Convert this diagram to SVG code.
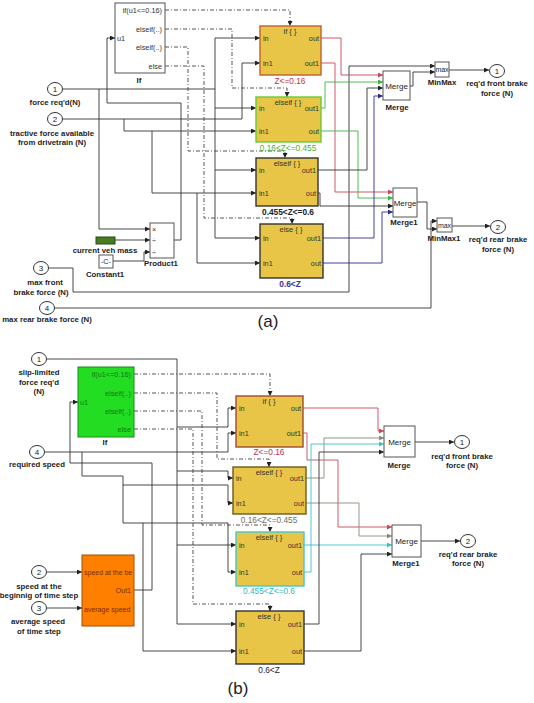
<svg xmlns="http://www.w3.org/2000/svg" width="534" height="703" viewBox="0 0 534 703">
<defs>
<style>
text{font-family:"Liberation Sans",Arial,sans-serif;fill:#222}
.lb{font-size:7.8px;font-weight:bold;text-anchor:middle}
.in{font-size:7.3px;fill:#333}
.ti{font-size:7.5px;text-anchor:middle;fill:#333}
.c{text-anchor:middle}
.e{text-anchor:end}
.blk{fill:#e8c547;stroke-width:1.4}
.pt{fill:#fff;stroke:#333;stroke-width:1}
.ln{fill:none;stroke:#333;stroke-width:0.9}
.dd{fill:none;stroke:#444;stroke-width:0.9;stroke-dasharray:4 2 1 2}
.a{marker-end:url(#ah)}
.r{stroke:#c8485a;marker-end:url(#ar)}
.g{stroke:#3cb43c;marker-end:url(#ag)}
.b{stroke:#2c2c8c;marker-end:url(#ab)}
.cy{stroke:#3cc0c8;marker-end:url(#ac)}
.gy{stroke:#8a8a7a;marker-end:url(#ay)}
</style>
<marker id="ah" viewBox="0 0 6 6" refX="6" refY="3" markerWidth="5" markerHeight="5" orient="auto" markerUnits="userSpaceOnUse"><path d="M0,0L6,3L0,6z" fill="#222"/></marker>
<marker id="ar" viewBox="0 0 6 6" refX="6" refY="3" markerWidth="5" markerHeight="5" orient="auto" markerUnits="userSpaceOnUse"><path d="M0,0L6,3L0,6z" fill="#c8485a"/></marker>
<marker id="ag" viewBox="0 0 6 6" refX="6" refY="3" markerWidth="5" markerHeight="5" orient="auto" markerUnits="userSpaceOnUse"><path d="M0,0L6,3L0,6z" fill="#3cb43c"/></marker>
<marker id="ab" viewBox="0 0 6 6" refX="6" refY="3" markerWidth="5" markerHeight="5" orient="auto" markerUnits="userSpaceOnUse"><path d="M0,0L6,3L0,6z" fill="#2c2c8c"/></marker>
<marker id="ac" viewBox="0 0 6 6" refX="6" refY="3" markerWidth="5" markerHeight="5" orient="auto" markerUnits="userSpaceOnUse"><path d="M0,0L6,3L0,6z" fill="#3cc0c8"/></marker>
<marker id="ay" viewBox="0 0 6 6" refX="6" refY="3" markerWidth="5" markerHeight="5" orient="auto" markerUnits="userSpaceOnUse"><path d="M0,0L6,3L0,6z" fill="#8a8a7a"/></marker>
<clipPath id="oc"><rect x="82" y="555" width="52" height="71"/></clipPath>
</defs>
<rect width="534" height="703" fill="#fff"/>

<!-- ===== connectors (a) ===== -->
<g id="connectors-a">
<path class="ln a" d="M63,89 H215 V38 H260"/>
<path class="ln a" d="M215,89 V238 H260"/>
<path class="ln a" d="M215,108 H256"/>
<path class="ln a" d="M215,170 H256"/>
<path class="ln a" d="M99,89 V229 H150"/>
<path class="ln a" d="M63,119 H242 V63 H260"/>
<path class="ln a" d="M124,119 V131 H256"/>
<path class="ln a" d="M152,131 V193 H256"/>
<path class="ln a" d="M197,193 V263 H260"/>
<path class="ln a" d="M174,240 H181 V103 H107 V38 H115"/>
<path class="ln a" d="M115,240 H150"/>
<path class="ln a" d="M113,261 H144 V252 H150"/>
<path class="ln a" d="M49,268 H73 V292 H349 V66 H435"/>
<path class="ln a" d="M55,308 H431 V221 H437"/>
<path class="ln a" d="M410,86 H413 V72 H435"/>
<path class="ln a" d="M449,70 H489"/>
<path class="ln a" d="M417,202 H427 V229 H437"/>
<path class="ln a" d="M452,226 H490"/>
<path class="ln r" d="M321,38 H341 V75 H383"/>
<path class="ln r" d="M321,63 H335 V192 H393"/>
<path class="ln g" d="M321,108 H325 V82 H383"/>
<path class="ln g" d="M321,131 H358 V198 H393"/>
<path class="ln a" d="M318,170 H367 V88 H383"/>
<path class="ln a" d="M318,193 H320 V206 H393"/>
<path class="ln b" d="M323,238 H374 V96 H383"/>
<path class="ln b" d="M323,263 H382 V212 H393"/>
<path class="dd a" d="M165,10 H290 V26"/>
<path class="dd a" d="M165,29 H232 V88 H287 V97"/>
<path class="dd a" d="M165,47 H188 V151 H285 V158"/>
<path class="dd a" d="M165,66 H204 V218 H292 V224"/>
</g>

<!-- ===== nodes (a) ===== -->
<g id="If-a">
<rect x="115" y="3" width="50" height="70" fill="#fff" stroke="#555"/>
<text class="in e" x="162" y="13">if(u1&lt;=0.16)</text>
<text class="in e" x="162" y="32">elseif(..)</text>
<text class="in e" x="162" y="50">elseif(..)</text>
<text class="in e" x="162" y="69">else</text>
<text class="in" x="117" y="41">u1</text>
<text class="lb" x="139" y="83">If</text>
</g>
<g id="in1-a"><ellipse class="pt" cx="55" cy="89" rx="7.5" ry="6.5"/><text class="c" x="55" y="92" font-size="8">1</text><text class="lb" x="55" y="105">force req'd(N)</text></g>
<g id="in2-a"><ellipse class="pt" cx="55" cy="119" rx="7.5" ry="6.5"/><text class="c" x="55" y="122" font-size="8">2</text><text class="lb" x="52" y="136">tractive force available</text><text class="lb" x="52" y="145">from drivetrain (N)</text></g>
<g id="in3-a"><ellipse class="pt" cx="41" cy="268" rx="7.5" ry="6.5"/><text class="c" x="41" y="271" font-size="8">3</text><text class="lb" x="45" y="285">max front</text><text class="lb" x="41" y="295">brake force (N)</text></g>
<g id="in4-a"><ellipse class="pt" cx="47" cy="308" rx="7.5" ry="6.5"/><text class="c" x="47" y="311" font-size="8">4</text><text class="lb" x="47" y="322">max rear brake force (N)</text></g>
<g id="Product1"><rect x="150" y="223" width="24" height="35" fill="#fff" stroke="#555"/><text class="in" x="152" y="232">×</text><text class="in" x="152" y="243">÷</text><text class="in" x="152" y="255">÷</text><text class="lb" x="161" y="266">Product1</text></g>
<g id="vehmass"><rect x="96" y="237" width="19" height="7" fill="#4a7a22" stroke="#2a4a10"/><text class="lb" x="105" y="253">current veh mass</text></g>
<g id="Constant1"><rect x="99" y="255" width="14" height="13" fill="#fff" stroke="#555"/><text class="in c" x="106" y="264">-C-</text><text class="lb" x="105" y="277">Constant1</text></g>

<g id="if-a"><rect class="blk" x="260" y="26" width="61" height="49" stroke="#c0602a"/><text class="ti" x="290" y="34">if { }</text><text class="in" x="263" y="41">in</text><text class="in" x="263" y="66">in1</text><text class="in e" x="319" y="41">out</text><text class="in e" x="319" y="66">out1</text><text class="c" x="290" y="84" font-size="8.3" fill="#c0304a" style="fill:#c0304a">Z&lt;=0.16</text></g>
<g id="elseif1-a"><rect class="blk" x="256" y="97" width="65" height="45" stroke="#66cc33"/><text class="ti" x="288" y="105">elseif { }</text><text class="in" x="259" y="111">in</text><text class="in" x="259" y="134">in1</text><text class="in e" x="319" y="111">out1</text><text class="in e" x="319" y="134">out</text><text class="c" x="288" y="151" font-size="8.3" style="fill:#3cb43c">0.16&lt;Z&lt;=0.455</text></g>
<g id="elseif2-a"><rect class="blk" x="256" y="158" width="62" height="48" stroke="#333"/><text class="ti" x="287" y="166">elseif { }</text><text class="in" x="259" y="173">in</text><text class="in" x="259" y="196">in1</text><text class="in e" x="316" y="173">out1</text><text class="in e" x="316" y="196">out</text><text class="c" x="288" y="215" font-size="8.3" font-weight="bold">0.455&lt;Z&lt;=0.6</text></g>
<g id="else-a"><rect class="blk" x="260" y="224" width="63" height="54" stroke="#333"/><text class="ti" x="291" y="232">else { }</text><text class="in" x="263" y="241">in</text><text class="in" x="263" y="266">in1</text><text class="in e" x="321" y="241">out1</text><text class="in e" x="321" y="266">out</text><text class="c" x="290" y="287" font-size="8.3" font-weight="bold" style="fill:#333399">0.6&lt;Z</text></g>

<g id="Merge-a"><rect x="383" y="71" width="27" height="29" fill="#fff" stroke="#555"/><text class="c" x="396.5" y="89" font-size="8">Merge</text><text class="lb" x="397" y="110">Merge</text></g>
<g id="MinMax-a"><rect x="435" y="62" width="14" height="15" fill="#fff" stroke="#555"/><text class="c" x="442" y="72" font-size="7">max</text><text class="lb" x="442" y="85">MinMax</text></g>
<g id="out1-a"><ellipse class="pt" cx="497" cy="71" rx="7.5" ry="6.5"/><text class="c" x="497" y="74" font-size="8">1</text><text class="lb" x="497" y="86">req'd front brake</text><text class="lb" x="497" y="96">force (N)</text></g>
<g id="Merge1-a"><rect x="393" y="188" width="24" height="29" fill="#fff" stroke="#555"/><text class="c" x="405" y="206" font-size="8">Merge</text><text class="lb" x="404" y="225">Merge1</text></g>
<g id="MinMax1-a"><rect x="437" y="218" width="15" height="14" fill="#fff" stroke="#555"/><text class="c" x="444.5" y="228" font-size="7">max</text><text class="lb" x="444" y="241">MinMax1</text></g>
<g id="out2-a"><ellipse class="pt" cx="498" cy="227" rx="7.5" ry="6.5"/><text class="c" x="498" y="230" font-size="8">2</text><text class="lb" x="498" y="242">req'd rear brake</text><text class="lb" x="498" y="252">force (N)</text></g>
<text x="268" y="327" font-size="17" class="c">(a)</text>

<!-- ===== connectors (b) ===== -->
<g id="connectors-b">
<path class="ln a" d="M47,359 H177 V624 H236"/>
<path class="ln a" d="M177,427 H228 V408 H236"/>
<path class="ln a" d="M177,471 H228 V478 H233"/>
<path class="ln a" d="M177,545 H236"/>
<path class="ln a" d="M45,452 H228 V433 H236"/>
<path class="ln a" d="M82,452 V476 H123 V523 H228 V572 H236"/>
<path class="ln a" d="M123,485 H228 V503 H233"/>
<path class="ln a" d="M143,523 V651 H236"/>
<path class="ln a" d="M47,572 H82"/>
<path class="ln a" d="M47,608 H82"/>
<path class="ln a" d="M134,590 H152 V463 H70 V402 H78"/>
<path class="ln a" d="M415,442 H454"/>
<path class="ln a" d="M421,541 H460"/>
<path class="ln r" d="M303,408 H378 V431 H384"/>
<path class="ln r" d="M303,433 H307 V460 H338 V527 H392"/>
<path class="ln gy" d="M306,478 H324 V438 H384"/>
<path class="ln gy" d="M306,503 H359 V536 H392"/>
<path class="ln cy" d="M304,545 H392"/>
<path class="ln cy" d="M304,572 H311 V444 H384"/>
<path class="ln a" d="M304,624 H319 V452 H384"/>
<path class="ln a" d="M304,651 H361 V554 H392"/>
<path class="dd a" d="M134,374 H270 V396"/>
<path class="dd a" d="M134,393 H217 V459 H269 V467"/>
<path class="dd a" d="M134,411 H202 V525 H270 V532"/>
<path class="dd a" d="M134,429 H193 V604 H270 V611"/>
</g>

<!-- ===== nodes (b) ===== -->
<g id="in1-b"><ellipse class="pt" cx="39" cy="359" rx="7.5" ry="6.5"/><text class="c" x="39" y="362" font-size="8">1</text><text class="lb" x="39" y="375">slip-limited</text><text class="lb" x="39" y="385">force req'd</text><text class="lb" x="39" y="394">(N)</text></g>
<g id="If-b">
<rect x="78" y="367" width="56" height="70" fill="#22dd22" stroke="#1a8a1a"/>
<text class="in e" x="131" y="377" style="fill:#147a14">if(u1&lt;=0.16)</text>
<text class="in e" x="131" y="396" style="fill:#147a14">elseif(..)</text>
<text class="in e" x="131" y="414" style="fill:#147a14">elseif(..)</text>
<text class="in e" x="131" y="432" style="fill:#147a14">else</text>
<text class="in" x="80" y="405" style="fill:#147a14">u1</text>
<text class="lb" x="105" y="445">If</text>
</g>
<g id="in4-b"><ellipse class="pt" cx="37" cy="452" rx="7.5" ry="6.5"/><text class="c" x="37" y="455" font-size="8">4</text><text class="lb" x="37" y="467">required speed</text></g>
<g id="in2-b"><ellipse class="pt" cx="39" cy="572" rx="7.5" ry="6.5"/><text class="c" x="39" y="575" font-size="8">2</text><text class="lb" x="39" y="589">speed at the</text><text class="lb" x="39" y="598">beginnig of time step</text></g>
<g id="in3-b"><ellipse class="pt" cx="39" cy="608" rx="7.5" ry="6.5"/><text class="c" x="39" y="611" font-size="8">3</text><text class="lb" x="38" y="624">average speed</text><text class="lb" x="39" y="634">of time step</text></g>
<g id="speedblock"><rect x="82" y="555" width="52" height="71" fill="#ff8000" stroke="#a05000"/><g clip-path="url(#oc)"><text x="84" y="575" font-size="7" style="fill:#7a2a00">speed at the  be</text></g><text x="131" y="593" font-size="7" class="e" style="fill:#7a2a00">Out1</text><text x="84" y="612" font-size="7" style="fill:#7a2a00">average speed</text></g>

<g id="if-b"><rect class="blk" x="236" y="396" width="67" height="51" stroke="#a04a30"/><text class="ti" x="269" y="404">if { }</text><text class="in" x="239" y="411">in</text><text class="in" x="239" y="436">in1</text><text class="in e" x="301" y="411">out</text><text class="in e" x="301" y="436">out1</text><text class="c" x="269" y="455" font-size="8.3" style="fill:#c0304a">Z&lt;=0.16</text></g>
<g id="elseif1-b"><rect class="blk" x="233" y="467" width="73" height="47" stroke="#6a5a20"/><text class="ti" x="269" y="475">elseif { }</text><text class="in" x="236" y="481">in</text><text class="in" x="236" y="506">in1</text><text class="in e" x="304" y="481">out1</text><text class="in e" x="304" y="506">out</text><text class="c" x="269" y="523" font-size="8.3" style="fill:#707058">0.16&lt;Z&lt;=0.455</text></g>
<g id="elseif2-b"><rect class="blk" x="236" y="532" width="68" height="54" stroke="#40c8d0"/><text class="ti" x="269" y="540">elseif { }</text><text class="in" x="239" y="548">in</text><text class="in" x="239" y="575">in1</text><text class="in e" x="302" y="548">out1</text><text class="in e" x="302" y="575">out</text><text class="c" x="269" y="594" font-size="8.3" style="fill:#30b8c8">0.455&lt;Z&lt;=0.6</text></g>
<g id="else-b"><rect class="blk" x="236" y="611" width="68" height="53" stroke="#333"/><text class="ti" x="269" y="619">else { }</text><text class="in" x="239" y="627">in</text><text class="in" x="239" y="654">in1</text><text class="in e" x="302" y="627">out1</text><text class="in e" x="302" y="654">out</text><text class="c" x="269" y="673" font-size="8.3">0.6&lt;Z</text></g>

<g id="Merge-b"><rect x="384" y="426" width="31" height="31" fill="#fff" stroke="#555"/><text class="c" x="399.5" y="445" font-size="8">Merge</text><text class="lb" x="399" y="468">Merge</text></g>
<g id="out1-b"><ellipse class="pt" cx="462" cy="442" rx="7.5" ry="6.5"/><text class="c" x="462" y="445" font-size="8">1</text><text class="lb" x="462" y="459">req'd front brake</text><text class="lb" x="462" y="468">force (N)</text></g>
<g id="Merge1-b"><rect x="392" y="525" width="29" height="32" fill="#fff" stroke="#555"/><text class="c" x="406.5" y="544" font-size="8">Merge</text><text class="lb" x="406" y="566">Merge1</text></g>
<g id="out2-b"><ellipse class="pt" cx="468" cy="541" rx="7.5" ry="6.5"/><text class="c" x="468" y="544" font-size="8">2</text><text class="lb" x="468" y="557">req'd rear brake</text><text class="lb" x="468" y="566">force (N)</text></g>
<text x="238" y="694" font-size="17" class="c">(b)</text>
</svg>
